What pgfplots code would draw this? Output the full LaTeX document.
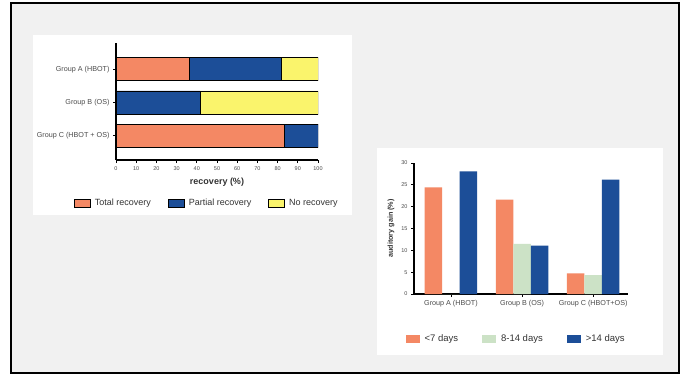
\documentclass[border=0pt]{standalone}
\usepackage{pgfplots}
\pgfplotsset{compat=1.18}
\usepackage{fontspec}
\setmainfont{Liberation Sans}
\definecolor{cOrange}{RGB}{244,136,100}
\definecolor{cBlue}{RGB}{28,78,152}
\definecolor{cYellow}{RGB}{250,244,108}
\definecolor{cGreen}{RGB}{204,226,198}
\definecolor{cBg}{RGB}{241,241,241}
\begin{document}
\begin{tikzpicture}[x=1pt,y=1pt]
\fill[white] (0,0) rectangle (685,376);
\filldraw[fill=cBg, draw=black, line width=2.5pt] (11,373) rectangle (679,3);
\fill[white] (33,341) rectangle (352,161);
\fill[white] (377,228) rectangle (663,21);

% left chart
\begin{axis}[
  at={(116pt,216pt)}, anchor=south west,
  scale only axis, width=202pt, height=117pt,
  xbar stacked, bar width=23pt,
  xmin=0, xmax=100, ymin=-0.74, ymax=2.8,
  xtick={0,10,...,100},
  ytick={0,1,2},
  yticklabels={Group C (HBOT + OS),Group B (OS),Group A (HBOT)},
  axis lines*=left,
  axis line style={line width=1.2pt,-},
  tick style={black, line width=0.9pt},
  tick align=outside, major tick length=3pt,
  /pgf/number format/assume math mode=true,
  xticklabel style={font=\fontsize{5.5}{6.6}\selectfont, color=black!70},
  yticklabel style={font=\fontsize{7.2}{8.6}\selectfont, color=black!70},
  xlabel={\bfseries recovery (\%)},
  xlabel style={font=\fontsize{9}{10.8}\selectfont, color=black!80, yshift=-1pt},
  legend columns=3,
  legend style={at={(0.45,-0.368)}, anchor=center, draw=none, fill=none,
    font=\fontsize{9}{10.8}\selectfont, text=black!80,
    /tikz/every odd column/.append style={column sep=2pt},
    /tikz/every even column/.append style={column sep=15pt}},
  legend image code/.code={\draw[#1, draw=black, line width=0.8pt] (0pt,-4pt) rectangle (16pt,4pt);},
]
\addplot[fill=cOrange, draw=black, line width=0.9pt] coordinates {(36.4,2) (0,1) (83.3,0)};
\addplot[fill=cBlue, draw=black, line width=0.9pt] coordinates {(45.5,2) (41.7,1) (16.7,0)};
\addplot[fill=cYellow, draw=black, line width=0.9pt] coordinates {(18.1,2) (58.3,1) (0,0)};
\legend{Total recovery, Partial recovery, No recovery}
\end{axis}

% right chart
\begin{axis}[
  at={(414pt,82pt)}, anchor=south west,
  scale only axis, width=214pt, height=131pt,
  ybar=0pt, bar width=17.5pt,
  xmin=-0.52, xmax=2.49, ymin=0, ymax=30,
  ytick={0,5,...,30},
  xtick={0,1,2},
  xticklabels={Group A (HBOT),Group B (OS),Group C (HBOT+OS)},
  axis lines*=left,
  axis line style={line width=1.2pt,-},
  tick style={black, line width=0.9pt},
  tick align=outside, major tick length=3pt,
  /pgf/number format/assume math mode=true,
  yticklabel style={font=\fontsize{5.5}{6.6}\selectfont, color=black!70},
  xticklabel style={font=\fontsize{7.2}{8.6}\selectfont, color=black!70},
  ylabel={\bfseries auditory gain (\%)},
  ylabel style={font=\fontsize{7.2}{8.6}\selectfont, color=black!80},
  legend columns=3,
  legend style={at={(0.477,-0.344)}, anchor=center, draw=none, fill=none,
    font=\fontsize{9.5}{11.4}\selectfont, text=black!80,
    /tikz/every odd column/.append style={column sep=3pt},
    /tikz/every even column/.append style={column sep=22pt}},
  legend image code/.code={\fill[#1] (0pt,-4pt) rectangle (14pt,4pt);},
]
\addplot[fill=cOrange, draw=none] coordinates {(0,24.4) (1,21.6) (2,4.7)};
\addplot[fill=cGreen, draw=none] coordinates {(0,0) (1,11.5) (2,4.3)};
\addplot[fill=cBlue, draw=none] coordinates {(0,28.1) (1,11.1) (2,26.2)};
\legend{<7 days, 8-14 days, >14 days}
\end{axis}
\end{tikzpicture}
\end{document}
